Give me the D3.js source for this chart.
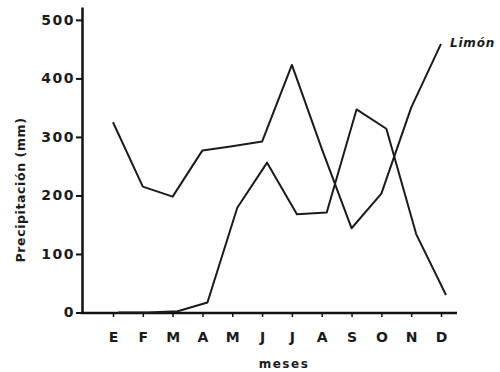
<!DOCTYPE html>
<meta charset="utf-8">
<style>
    body { margin: 0; background: #fff; }
    text { font-family: "DejaVu Sans", sans-serif; fill: #1b1b1b; }
    .serie { fill: none; stroke: #1b1b1b; stroke-width: 2px; stroke-linejoin: round; }
    .axis path, .axis line { stroke: #111; }
</style>
<body>
    <svg width="500" height="372"></svg>
    <script src="https://d3js.org/d3.v7.min.js"></script>
    <script>
        // meses del año
        const meses = ["E", "F", "M", "A", "M", "J", "J", "A", "S", "O", "N", "D"];
        // precipitación mensual (mm), Limón
        const limon = [325, 215, 198, 277, 284, 292, 423, 280, 144, 203, 350, 459];
        // la otra estación
        const otra = [0, 0, 2, 17, 179, 256, 168, 171, 347, 314, 134, 30];
        const yTicks = [0, 100, 200, 300, 400, 500];

        const svg = d3.select("svg");

        const x = d3.scalePoint()
            .domain(d3.range(meses.length))
            .range([113, 441]);

        const y = d3.scaleLinear()
            .domain([0, 522])
            .range([312.5, 7]);

        // eje y
        const yAxis = svg.append("g")
            .attr("class", "axis")
            .attr("transform", "translate(82,0)")
            .call(d3.axisLeft(y).tickValues(yTicks).tickSize(6).tickPadding(1).tickSizeOuter(0));
        yAxis.select(".domain").attr("stroke-width", 2.5);
        yAxis.selectAll(".tick line").attr("stroke-width", 2);
        yAxis.selectAll("text")
            .style("font-size", "14px")
            .style("font-weight", "bold")
            .style("letter-spacing", "1.5px")
            .attr("fill", "#1b1b1b");

        // eje x
        const xAxis = svg.append("g")
            .attr("class", "axis")
            .attr("transform", "translate(0,313)")
            .call(d3.axisBottom(x).tickFormat(i => meses[i]).tickSize(4).tickPadding(15).tickSizeOuter(0));
        xAxis.select(".domain").remove();
        xAxis.append("line")
            .attr("x1", 81).attr("x2", 457)
            .attr("stroke", "#111").attr("stroke-width", 2.5);
        xAxis.selectAll(".tick line").attr("stroke-width", 1.5);
        xAxis.selectAll("text")
            .style("font-size", "14px")
            .style("font-weight", "bold")
            .attr("fill", "#1b1b1b");

        const line = d3.line()
            .x((d, i) => x(i))
            .y(d => y(d));

        svg.append("path")
            .attr("class", "serie")
            .attr("d", line(limon));

        // la segunda curva va algo corrida a la derecha en el original
        svg.append("path")
            .attr("class", "serie")
            .attr("transform", "translate(5,0)")
            .attr("d", line(otra));

        svg.append("text")
            .attr("x", x(11) + 9)
            .attr("y", y(limon[11]) + 3)
            .style("font-size", "12px")
            .style("font-style", "italic")
            .style("font-weight", "bold")
            .style("letter-spacing", "0.8px")
            .text("Limón");

        svg.append("text")
            .attr("x", 284)
            .attr("y", 368)
            .attr("text-anchor", "middle")
            .style("font-size", "12px")
            .style("font-weight", "bold")
            .style("letter-spacing", "1.5px")
            .text("meses");

        svg.append("text")
            .attr("transform", "translate(25,190) rotate(-90)")
            .attr("text-anchor", "middle")
            .style("font-size", "12.5px")
            .style("font-weight", "bold")
            .style("letter-spacing", "0.6px")
            .text("Precipitación (mm)");
    </script>
</body>
